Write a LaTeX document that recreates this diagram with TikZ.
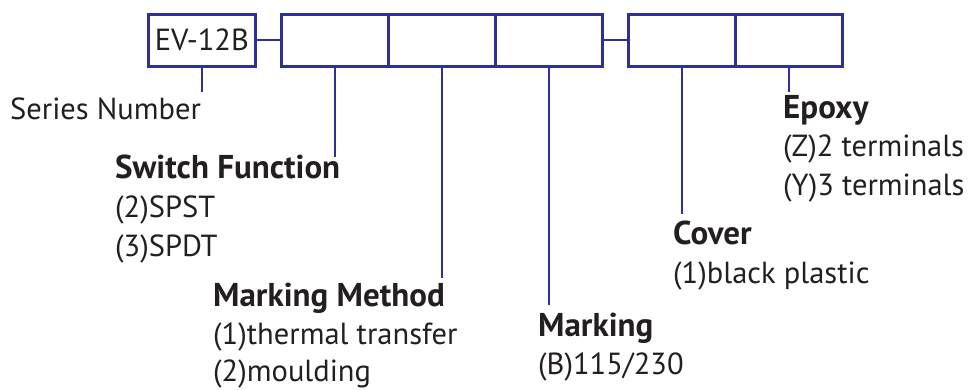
\documentclass[tikz,border=0pt]{standalone}
\usepackage{fontspec}
\setmainfont{PT Sans}
\definecolor{lineblue}{HTML}{2E3192}
\definecolor{txt}{HTML}{231F20}
\begin{document}
\begin{tikzpicture}[x=1pt,y=-1pt,
  cell/.style={draw=lineblue,line width=2.6pt,minimum width=107pt,minimum height=52pt,inner sep=0pt,anchor=north west},
  link/.style={draw=lineblue,line width=1.8pt},
  stem/.style={draw=lineblue,line width=2.2pt},
  lbl/.style={anchor=base west,inner sep=0pt,text=txt,font=\fontsize{30.5}{30.5}\selectfont},
  ttl/.style={lbl,font=\fontsize{33}{33}\selectfont\bfseries}]
\useasboundingbox (0,0) rectangle (972,389);
% boxes
\node[cell,font=\fontsize{30.5}{30.5}\selectfont,text=txt] (ev) at (147,13) {EV-12B};
\node[cell] (c1) at (280,13) {};
\node[cell] (c2) at (387,13) {};
\node[cell] (c3) at (494,13) {};
\node[cell] (c4) at (627,13) {};
\node[cell] (c5) at (734,13) {};
\draw[link] (ev.east) -- (c1.west);
\draw[link] (c3.east) -- (c4.west);
% labels
\node[lbl] (sn) at (10,119) {Series Number};
\node[ttl] (sf) at (115,178) {Switch Function};
\node[lbl] (sf1) at (115,217) {(2)SPST};
\node[lbl] (sf2) at (115,256) {(3)SPDT};
\node[ttl] (mm) at (213,306) {Marking Method};
\node[lbl] (mm1) at (213,344) {(1)thermal transfer};
\node[lbl] (mm2) at (213,381) {(2)moulding};
\node[ttl] (mk) at (538,336) {Marking};
\node[lbl] (mk1) at (538,374) {(B)115/230};
\node[ttl] (cv) at (673,244) {Cover};
\node[lbl] (cv1) at (673,283) {(1)black plastic};
\node[ttl] (ep) at (783,118) {Epoxy};
\node[lbl] (ep1) at (783,156) {(Z)2 terminals};
\node[lbl] (ep2) at (783,195) {(Y)3 terminals};
% stem ends
\coordinate (e0) at (ev.south |- 0,92);
\coordinate (e1) at (c1.south |- 0,157);
\coordinate (e2) at (c2.south |- 0,278);
\coordinate (e3) at (c3.south |- 0,305);
\coordinate (e4) at (c4.south |- 0,214);
\coordinate (e5) at (c5.south |- 0,92);
\draw[stem] (ev.south) -- (e0);
\draw[stem] (c1.south) -- (e1);
\draw[stem] (c2.south) -- (e2);
\draw[stem] (c3.south) -- (e3);
\draw[stem] (c4.south) -- (e4);
\draw[stem] (c5.south) -- (e5);
\end{tikzpicture}
\end{document}
